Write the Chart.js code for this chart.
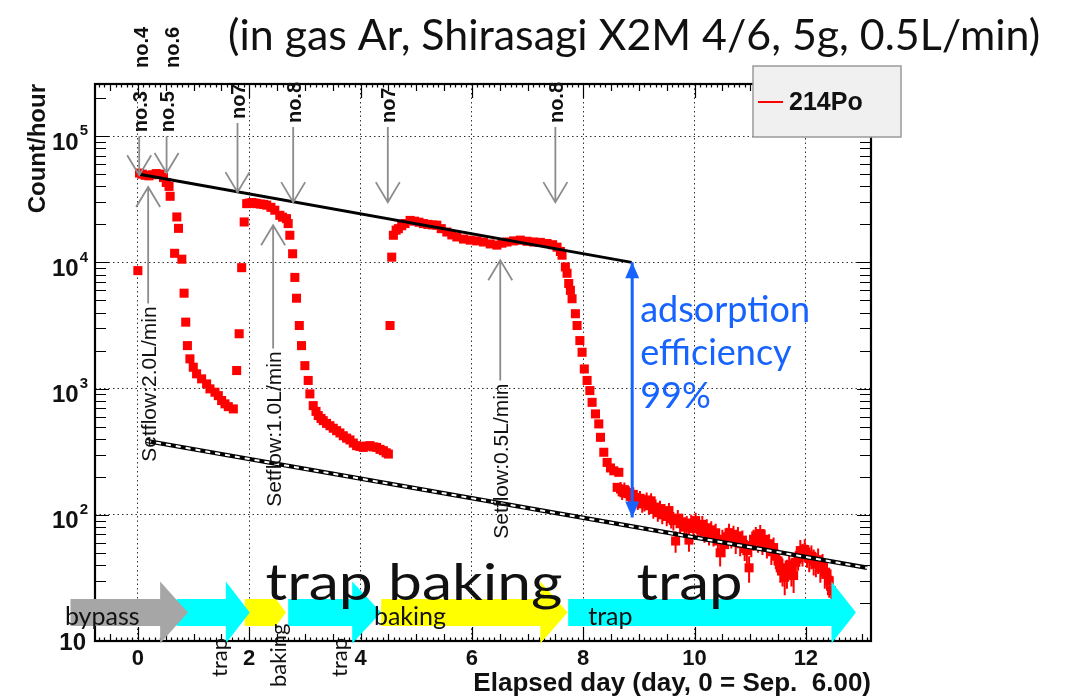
<!DOCTYPE html>
<html>
<head>
<meta charset="utf-8">
<script src="https://cdn.jsdelivr.net/npm/chart.js@4.4.1/dist/chart.umd.min.js"></script>
<style>
  html, body { margin: 0; padding: 0; background: #ffffff; overflow: hidden; }
  #wrap { width: 1065px; height: 699px; }
</style>
</head>
<body>
<div id="wrap"><canvas id="c" width="1065" height="699"></canvas></div>
<script>
// ---- 214Po count rate (elapsed day, count/hour) ----
const days214 = [
  0.00, 0.03, 0.08, 0.13, 0.20, 0.27, 0.33, 0.40, 0.46, 0.51, 0.56, 0.58, 0.66, 0.70, 0.73, 0.79,
  0.83, 0.86, 0.89, 0.935, 0.995, 1.055, 1.145, 1.235, 1.295, 1.385, 1.445, 1.505, 1.565, 1.625, 1.715,
  1.775, 1.82, 1.865, 1.91, 1.955, 2.00, 2.05, 2.10, 2.135, 2.20, 2.26, 2.315, 2.39, 2.46, 2.55, 2.60,
  2.67, 2.70, 2.73, 2.78, 2.82, 2.85, 2.90, 2.94, 3.00, 3.06, 3.09, 3.15, 3.20, 3.24, 3.29, 3.33, 3.39,
  3.45, 3.51, 3.57, 3.63, 3.69, 3.75, 3.81, 3.87, 3.93, 3.99, 4.05, 4.11, 4.17, 4.23, 4.29, 4.35, 4.41,
  4.46, 4.50,
  4.53, 4.56, 4.59, 4.64, 4.68, 4.74, 4.80, 4.89, 4.97, 5.05, 5.13, 5.21, 5.29, 5.37, 5.45, 5.55, 5.64,
  5.73, 5.85, 5.97, 6.09, 6.21, 6.33, 6.45, 6.54, 6.63, 6.75, 6.87, 6.99, 7.11, 7.23, 7.35, 7.45, 7.53,
  7.59, 7.62, 7.68, 7.71, 7.74, 7.77, 7.80, 7.86, 7.89, 7.94, 7.98, 8.02, 8.07, 8.12, 8.16, 8.22, 8.28,
  8.31, 8.37, 8.43, 8.49, 8.55, 8.61, 8.64
];
const counts214 = [
  8600, 51000, 50000, 49000, 48500, 49500, 50500, 50000, 47000, 43000, 40000, 33400, 11800, 22900, 18600, 10600,
  5700, 3360, 2190, 1720, 1476, 1309, 1194, 1089, 995, 936, 879, 804, 757, 719, 690,
  1390, 2720, 9080, 20900, 29200, 29500, 29800, 29500, 29200, 29000, 28800, 28400, 27300, 25900, 23600, 22800,
  22200, 20300, 16400, 11700, 7600, 5200, 3160, 2190, 1520, 1160, 908, 733, 660, 611, 580, 557, 530,
  508, 485, 464, 445, 423, 405, 392, 370, 353, 348, 342, 350, 353, 345, 342, 330, 322,
  310, 303,
  3160, 11000, 16400, 18000, 18500, 19500, 20300, 21500, 21200, 20800, 20300, 20000, 19800, 19700, 18500, 17400, 16500,
  15900, 15300, 15000, 14800, 14500, 14000, 13700, 14200, 14500, 14800, 15000, 14700, 14500, 14400, 14100, 13800, 13200,
  12200, 11400, 9200, 8200, 6800, 6000, 5150, 3920, 3160, 2400, 1940, 1430, 1160, 964, 778, 630, 525,
  411, 313, 260, 235, 223, 165, 217
];
// low-rate tail after the last trap started, with statistical error (count/hour)
const tailDays = [
  8.67, 8.70, 8.74, 8.78, 8.82, 8.86, 8.90, 8.94, 8.98, 9.02, 9.06, 9.10, 9.14, 9.18, 9.22, 9.26,
  9.30, 9.34, 9.38, 9.42, 9.46, 9.50, 9.54, 9.58, 9.62, 9.66, 9.70, 9.74, 9.78, 9.82, 9.86, 9.90,
  9.94, 9.98, 10.02, 10.06, 10.10, 10.14, 10.18, 10.22, 10.26, 10.30, 10.34, 10.38, 10.42, 10.46, 10.50, 10.54,
  10.58, 10.62, 10.66, 10.70, 10.74, 10.78, 10.82, 10.86, 10.90, 10.94, 10.98, 11.02, 11.06, 11.10, 11.14, 11.18,
  11.22, 11.26, 11.30, 11.34, 11.38, 11.42, 11.46, 11.50, 11.54, 11.58, 11.62, 11.66, 11.70, 11.74, 11.78, 11.82,
  11.86, 11.90, 11.94, 11.98, 12.02, 12.06, 12.10, 12.14, 12.18, 12.22, 12.26, 12.30, 12.34, 12.38, 12.42, 12.46
];
const tailCounts = [
  160, 152, 158, 150, 147, 140, 145, 137, 128, 135, 122, 125, 131, 118, 129, 110,
  115, 104, 112, 100, 106, 97, 108, 93, 90, 62, 94, 85, 88, 80, 84, 63,
  86, 78, 90, 82, 76, 84, 73, 79, 70, 76, 68, 72, 62, 50, 64, 58,
  67, 72, 66, 70, 61, 68, 59, 63, 54, 52, 38, 57, 64, 68, 62, 71,
  60, 64, 56, 59, 51, 55, 47, 43, 38, 36, 32, 35, 40, 36, 33, 42,
  46, 52, 49, 53, 48, 45, 47, 43, 41, 44, 38, 40, 35, 34, 30, 25
];
const tailErrors = [
  22, 21, 22, 21, 21, 20, 20, 20, 19, 19, 18, 19, 19, 18, 19, 17,
  17, 16, 17, 16, 16, 16, 16, 15, 15, 12, 15, 14, 14, 14, 14, 12,
  14, 14, 14, 14, 13, 14, 13, 13, 13, 13, 12, 13, 12, 11, 12, 12,
  12, 13, 12, 12, 12, 12, 12, 12, 11, 11, 9, 11, 12, 12, 12, 12,
  12, 12, 11, 11, 11, 11, 10, 10, 9, 9, 9, 9, 9, 9, 9, 10,
  10, 11, 10, 11, 10, 10, 10, 10, 9, 10, 9, 9, 9, 9, 8, 8
];

// decay reference lines (day, count/hour)
const sourceLineDays = [0.03, 8.87];
const sourceLineCounts = [50000, 10000];
const trapLineDays = [0.15, 13.1];
const trapLineCounts = [385, 38];

// adsorption efficiency arrow
const effArrowDay = 8.88;
const effArrowCounts = [10000, 95];
const effText = ['adsorption', 'efficiency', '99%'];

// axis ticks
const xTickValues = [0, 2, 4, 6, 8, 10, 12];
const xTickLabels = ['0', '2', '4', '6', '8', '10', '12'];
const yTickValues = [10, 100, 1000, 10000, 100000];
const yTickExponents = ['', '2', '3', '4', '5'];

// sampling marks (down arrows) and flow settings (up arrows)
const markDays = [0.024, 0.516, 1.79, 2.79, 4.49, 7.50];
const markTipCounts = [49000, 51000, 36000, 30000, 30000, 30000];
const markTopCounts = [100000, 100000, 127000, 118000, 118000, 118000];
const markLabels = ['no.3', 'no.5', 'no7', 'no.8', 'no7', 'no.8'];
const upperMarkDays = [0.05, 0.60];
const upperMarkLabels = ['no.4', 'no.6'];
const flowDays = [0.185, 2.43, 6.51];
const flowTipCounts = [39600, 19700, 10400];
const flowBaseCounts = [4730, 2080, 1160];
const flowLabels = ['Setflow:2.0L/min', 'Setflow:1.0L/min', 'Setflow:0.5L/min'];

// operation phases along the time axis (days)
const phaseNames = ['bypass', 'trap', 'baking', 'trap', 'baking', 'trap'];
const phaseStart = [-1.21, 0.70, 1.92, 2.70, 4.37, 7.73];
const phaseHead = [0.40, 1.58, 2.48, 3.85, 7.23, 12.46];
const phaseTip = [0.90, 2.01, 2.66, 4.37, 7.72, 12.90];
const phaseColors = ['#a6a6a6', '#00ffff', '#ffff00', '#00ffff', '#ffff00', '#00ffff'];
const phaseLabelDays = [-1.31, 1.47, 2.54, 3.63, 4.24, 8.09];
const phaseLabelVertical = [false, true, true, true, false, false];
const bigPhaseText = ['trap baking', 'trap'];
const bigPhaseTextDays = [4.96, 9.91];
const bigPhaseTextWidths = [297, 106];

const titleText = '(in gas Ar, Shirasagi X2M 4/6, 5g, 0.5L/min)';
const xTitle = 'Elapsed day (day, 0 = Sep.  6.00)';
const yTitle = 'Count/hour';
const legendLabel = '214Po';

const ROOTFONT = '"Liberation Sans", Arial, sans-serif';
const SLIDEFONT = 'Lato, "Open Sans", sans-serif';
const INK = '#111111';
const RED = '#ff0000';

function pairs(xs, ys) { return xs.map((x, i) => ({ x: x, y: ys[i] })); }

function fitFont(ctx, text, weight, family, width) {
  ctx.font = weight + ' 40px ' + family;
  const w = ctx.measureText(text).width;
  return 40 * width / w;
}

// vertical error bars of the tail points
const errorBars = {
  id: 'errorBars',
  beforeDatasetsDraw(chart) {
    const { ctx, chartArea: a, scales: { x, y } } = chart;
    ctx.save();
    ctx.beginPath();
    ctx.rect(a.left, a.top, a.right - a.left, a.bottom - a.top);
    ctx.clip();
    ctx.strokeStyle = RED;
    ctx.lineWidth = 2;
    ctx.beginPath();
    tailDays.forEach((d, i) => {
      const px = x.getPixelForValue(d);
      ctx.moveTo(px, y.getPixelForValue(tailCounts[i] + tailErrors[i]));
      ctx.lineTo(px, y.getPixelForValue(tailCounts[i] - tailErrors[i]));
    });
    ctx.stroke();
    ctx.restore();
  }
};

const frameAndTicks = {
  id: 'frameAndTicks',
  afterDraw(chart) {
    const { ctx, chartArea: a, scales: { x, y } } = chart;
    ctx.save();
    ctx.strokeStyle = '#000';
    ctx.lineWidth = 1.2;
    ctx.beginPath();
    // x ticks, bottom and top edges
    for (let k = -7; k <= 131; k++) {
      const d = k / 10;
      const p = Math.round(x.getPixelForValue(d)) + 0.5;
      if (p <= a.left + 1 || p >= a.right - 1) continue;
      let len = 3.5;
      if (k % 5 === 0) len = 7;
      if (k % 20 === 0) len = 14;
      ctx.moveTo(p, a.bottom); ctx.lineTo(p, a.bottom - len);
      ctx.moveTo(p, a.top); ctx.lineTo(p, a.top + len);
    }
    // y ticks, left and right edges (log decades and sub-decades)
    for (let e = 1; e <= 5; e++) {
      for (let m = 1; m <= 9; m++) {
        const v = m * Math.pow(10, e);
        if (v > y.max) continue;
        const p = Math.round(y.getPixelForValue(v)) + 0.5;
        if (p >= a.bottom - 1 || p <= a.top + 1) continue;
        const len = m === 1 ? 14 : 11;
        ctx.moveTo(a.left, p); ctx.lineTo(a.left + len, p);
        ctx.moveTo(a.right, p); ctx.lineTo(a.right - len, p);
      }
    }
    ctx.stroke();
    // frame
    ctx.lineWidth = 2.2;
    ctx.strokeRect(a.left, a.top, a.right - a.left, a.bottom - a.top);

    // x tick labels
    ctx.fillStyle = INK;
    ctx.font = 'bold 22px ' + ROOTFONT;
    ctx.textAlign = 'center';
    ctx.textBaseline = 'middle';
    xTickValues.forEach((v, i) => {
      ctx.fillText(xTickLabels[i], x.getPixelForValue(v), a.bottom + 18);
    });
    // y tick labels: 10 with superscript exponent
    yTickValues.forEach((v, i) => {
      const p = y.getPixelForValue(v);
      const ex = yTickExponents[i];
      ctx.textAlign = 'right';
      if (ex) {
        ctx.font = 'bold 15px ' + ROOTFONT;
        ctx.fillText(ex, a.left - 7, p - 5);
        const w = ctx.measureText(ex).width;
        ctx.font = 'bold 24px ' + ROOTFONT;
        ctx.fillText('10', a.left - 8 - w, p + 7);
      } else {
        ctx.font = 'bold 24px ' + ROOTFONT;
        ctx.fillText('10', a.left - 9, p + 2);
      }
    });
    ctx.restore();
  }
};

function drawEffArrowHead(ctx, px, py, dir) {
  ctx.beginPath();
  ctx.moveTo(px, py);
  ctx.lineTo(px - 7, py + dir * 16);
  ctx.lineTo(px + 7, py + dir * 16);
  ctx.closePath();
  ctx.fill();
}

const annotations = {
  id: 'annotations',
  afterDraw(chart) {
    const { ctx, chartArea: a, scales: { x, y } } = chart;
    ctx.save();

    // gray sampling arrows (pointing down)
    ctx.strokeStyle = '#8c8c8c';
    ctx.lineWidth = 1.8;
    markDays.forEach((d, i) => {
      const px = x.getPixelForValue(d);
      const tip = y.getPixelForValue(markTipCounts[i]);
      const top = y.getPixelForValue(markTopCounts[i]);
      ctx.beginPath();
      ctx.moveTo(px, top); ctx.lineTo(px, tip);
      ctx.moveTo(px - 12, tip - 20); ctx.lineTo(px, tip); ctx.lineTo(px + 12, tip - 20);
      ctx.stroke();
    });
    // gray flow-setting arrows (pointing up)
    flowDays.forEach((d, i) => {
      const px = x.getPixelForValue(d);
      const tip = y.getPixelForValue(flowTipCounts[i]);
      const base = y.getPixelForValue(flowBaseCounts[i]);
      ctx.beginPath();
      ctx.moveTo(px, base); ctx.lineTo(px, tip);
      ctx.moveTo(px - 12, tip + 20); ctx.lineTo(px, tip); ctx.lineTo(px + 12, tip + 20);
      ctx.stroke();
    });

    // rotated labels
    ctx.fillStyle = INK;
    ctx.textBaseline = 'middle';
    const vtext = (txt, px, py, align) => {
      ctx.save();
      ctx.translate(px, py);
      ctx.rotate(-Math.PI / 2);
      ctx.textAlign = align;
      ctx.fillText(txt, 0, 0);
      ctx.restore();
    };
    ctx.font = 'bold 20px ' + ROOTFONT;
    markDays.forEach((d, i) => {
      vtext(markLabels[i], x.getPixelForValue(d) + 2, y.getPixelForValue(markTopCounts[i]) - 4, 'left');
    });
    upperMarkDays.forEach((d, i) => {
      vtext(upperMarkLabels[i], x.getPixelForValue(d) + 2, a.top - 16, 'left');
    });
    ctx.font = '21px ' + ROOTFONT;
    flowDays.forEach((d, i) => {
      vtext(flowLabels[i], x.getPixelForValue(d) + 2, y.getPixelForValue(flowBaseCounts[i]) + 3, 'right');
    });

    // adsorption efficiency arrow heads and text
    const ex = x.getPixelForValue(effArrowDay);
    ctx.fillStyle = '#1763ff';
    drawEffArrowHead(ctx, ex, y.getPixelForValue(effArrowCounts[0]), 1);
    drawEffArrowHead(ctx, ex, y.getPixelForValue(effArrowCounts[1]), -1);
    ctx.font = '36px ' + SLIDEFONT;
    ctx.textAlign = 'left';
    ctx.textBaseline = 'alphabetic';
    effText.forEach((t, i) => ctx.fillText(t, ex + 8, 322 + i * 43));

    // legend box
    ctx.fillStyle = '#f0f0f0';
    ctx.fillRect(753, 66, 148, 71);
    ctx.strokeStyle = '#9a9a9a';
    ctx.lineWidth = 1.5;
    ctx.strokeRect(753, 66, 148, 71);
    ctx.strokeStyle = RED;
    ctx.lineWidth = 2;
    ctx.beginPath(); ctx.moveTo(758, 102); ctx.lineTo(783, 102); ctx.stroke();
    ctx.fillStyle = INK;
    ctx.font = 'bold 25px ' + ROOTFONT;
    ctx.textBaseline = 'middle';
    ctx.fillText(legendLabel, 789, 103);

    // title
    const ts = fitFont(ctx, titleText, 'normal', SLIDEFONT, 812);
    ctx.font = ts.toFixed(1) + 'px ' + SLIDEFONT;
    ctx.textBaseline = 'alphabetic';
    ctx.fillText(titleText, 228, 50);

    // operation phases: later phases first so each arrow head overlaps the next body
    const bodyTop = a.bottom - 42, bodyBot = a.bottom - 15, mid = a.bottom - 28.5;
    for (let i = phaseNames.length - 1; i >= 0; i--) {
      const x0 = x.getPixelForValue(phaseStart[i]);
      const xh = x.getPixelForValue(phaseHead[i]);
      const xt = x.getPixelForValue(phaseTip[i]);
      const half = i === 2 ? 13.5 : 31;
      ctx.fillStyle = phaseColors[i];
      ctx.beginPath();
      ctx.moveTo(x0, bodyTop);
      ctx.lineTo(xh, bodyTop);
      ctx.lineTo(xh, mid - half);
      ctx.lineTo(xt, mid);
      ctx.lineTo(xh, mid + half);
      ctx.lineTo(xh, bodyBot);
      ctx.lineTo(x0, bodyBot);
      ctx.closePath();
      ctx.fill();
    }
    ctx.fillStyle = '#111';
    phaseNames.forEach((n, i) => {
      const px = x.getPixelForValue(phaseLabelDays[i]);
      if (phaseLabelVertical[i]) {
        ctx.font = '22px ' + SLIDEFONT;
        ctx.textBaseline = 'middle';
        const bottomY = n === 'baking' ? a.bottom + 46 : a.bottom + 36;
        vtext(n, px, bottomY, 'left');
      } else {
        ctx.font = '25px ' + SLIDEFONT;
        ctx.textAlign = 'left';
        ctx.textBaseline = 'middle';
        ctx.fillText(n, px, mid + 4);
      }
    });
    // large phase captions, stretched horizontally to their slide width
    ctx.font = '50px ' + SLIDEFONT;
    ctx.textAlign = 'center';
    ctx.textBaseline = 'alphabetic';
    bigPhaseText.forEach((t, i) => {
      const w = ctx.measureText(t).width;
      ctx.save();
      ctx.translate(x.getPixelForValue(bigPhaseTextDays[i]), a.bottom - 41);
      ctx.scale(bigPhaseTextWidths[i] / w, 1);
      ctx.fillText(t, 0, 0);
      ctx.restore();
    });
    ctx.restore();
  }
};

new Chart(document.getElementById('c'), {
  type: 'scatter',
  data: {
    datasets: [
      {
        label: legendLabel,
        data: pairs(days214, counts214).concat(pairs(tailDays, tailCounts)),
        pointStyle: 'rect',
        pointRadius: 6.4,
        backgroundColor: RED,
        borderWidth: 0,
        order: 5
      },
      {
        type: 'line',
        data: pairs(sourceLineDays, sourceLineCounts),
        borderColor: '#000000',
        borderWidth: 3,
        pointRadius: 0,
        order: 3
      },
      {
        type: 'line',
        data: pairs(trapLineDays, trapLineCounts),
        borderColor: '#000000',
        borderWidth: 4.5,
        pointRadius: 0,
        order: 2
      },
      {
        type: 'line',
        data: pairs(trapLineDays, trapLineCounts),
        borderColor: '#ffffff',
        borderWidth: 2,
        borderDash: [5, 5],
        pointRadius: 0,
        order: 1
      },
      {
        type: 'line',
        data: pairs([effArrowDay, effArrowDay], effArrowCounts),
        borderColor: '#1763ff',
        borderWidth: 3,
        pointRadius: 0,
        order: 0
      }
    ]
  },
  options: {
    responsive: false,
    animation: false,
    devicePixelRatio: 1,
    layout: { padding: { left: 0, top: 84, right: 194, bottom: 0 } },
    plugins: { legend: { display: false }, tooltip: { enabled: false } },
    scales: {
      x: {
        type: 'linear',
        min: -0.77,
        max: 13.17,
        afterBuildTicks(s) { s.ticks = xTickValues.map(v => ({ value: v })); },
        afterFit(s) { s.height = 58; },
        ticks: { display: false },
        grid: { color: '#333333', lineWidth: 1, drawTicks: false },
        border: { display: false, dash: [1.5, 3] },
        title: {
          display: true, text: xTitle, align: 'end', color: INK,
          font: { family: ROOTFONT, weight: 'bold', size: 26 },
          padding: { top: 0, bottom: 0 }
        }
      },
      y: {
        type: 'logarithmic',
        min: 10,
        max: 259000,
        afterBuildTicks(s) { s.ticks = yTickValues.map(v => ({ value: v })); },
        afterFit(s) { s.width = 95; },
        ticks: { display: false },
        grid: { color: '#333333', lineWidth: 1, drawTicks: false },
        border: { display: false, dash: [1.5, 3] },
        title: {
          display: true, text: yTitle, align: 'end', color: INK,
          font: { family: ROOTFONT, weight: 'bold', size: 24 },
          padding: { top: 24, bottom: 0 }
        }
      }
    }
  },
  plugins: [errorBars, frameAndTicks, annotations]
});
</script>
</body>
</html>
